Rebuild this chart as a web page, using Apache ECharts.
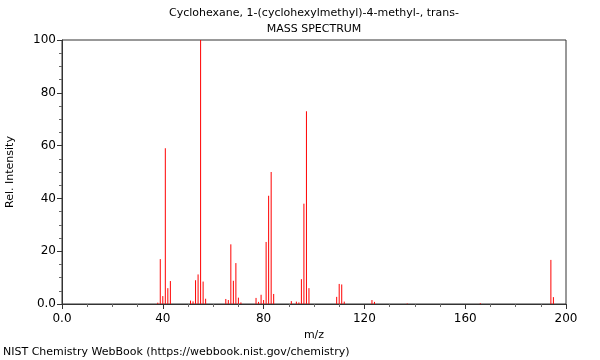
<!DOCTYPE html>
<html><head><meta charset="utf-8">
<script src="https://cdn.jsdelivr.net/npm/echarts@6/dist/echarts.min.js"></script>
<style>html,body{margin:0;padding:0;background:#fff}#c{width:600px;height:360px}</style>
</head><body><div id="c"></div>
<script>
const titleText = "Cyclohexane, 1-(cyclohexylmethyl)-4-methyl-, trans-";
const subtitleText = "MASS SPECTRUM";
const footerText = "NIST Chemistry WebBook (https://webbook.nist.gov/chemistry)";
const mz = [38,39,40,41,42,43,51,52,53,54,55,56,57,65,66,67,68,69,70,71,77,78,79,80,81,82,83,84,91,93,94,95,96,97,98,109,110,111,112,123,124,137,166,194,195];
const intensity = [0.5,17,3,59,6,8.7,1.3,1,9,11.2,100,8.5,2,1.9,1.5,22.6,8.8,15.5,2.4,0.6,2.3,0.8,3.5,1.5,23.5,41,50,3.8,1.1,0.9,0.6,9.4,38,73,6,2.7,7.6,7.4,0.9,1.5,0.8,0.2,0.3,16.7,2.6];

const chart = echarts.init(document.getElementById('c'), null, {renderer:'canvas'});
const font = 'DejaVu Sans';
chart.setOption({
  animation:false,
  textStyle:{fontFamily:font},
  title:[
    {text:titleText, left:314, top:8, padding:0, textAlign:'center', textStyle:{fontSize:11, fontWeight:'normal', color:'#000', fontFamily:font}},
    {text:subtitleText, left:314, top:24, padding:0, textAlign:'center', textStyle:{fontSize:11, fontWeight:'normal', color:'#000', fontFamily:font}},
    {text:footerText, left:3, top:347, padding:0, textStyle:{fontSize:11, fontWeight:'normal', color:'#000', fontFamily:font}}
  ],
  grid:{left:62, right:34, top:40, bottom:56, containLabel:false, outerBoundsMode:'none', show:true, borderColor:'#333', borderWidth:1, backgroundColor:'#fff'},
  xAxis:{type:'value', min:0, max:200, interval:40,
    name:'m/z', nameLocation:'middle', nameGap:24, nameTextStyle:{fontSize:11, color:'#000', fontFamily:font},
    axisLine:{show:true, lineStyle:{color:'#333'}},
    axisTick:{show:true, length:5, lineStyle:{color:'#333'}},
    minorTick:{show:true, splitNumber:4, length:3, lineStyle:{color:'#666'}},
    splitLine:{show:false},
    axisLabel:{fontSize:12, color:'#000', margin:9, formatter:v=> v===0?'0.0':String(v), fontFamily:font}
  },
  yAxis:{type:'value', min:0, max:100, interval:20,
    name:'Rel. Intensity', nameLocation:'middle', nameGap:46, nameTextStyle:{fontSize:11, color:'#000', fontFamily:font},
    axisLine:{show:true, lineStyle:{color:'#333'}},
    axisTick:{show:true, length:5, lineStyle:{color:'#333'}},
    minorTick:{show:true, splitNumber:4, length:3, lineStyle:{color:'#666'}},
    splitLine:{show:false},
    axisLabel:{fontSize:12, color:'#000', margin:6, formatter:v=> v===0?'0.0':String(v), fontFamily:font}
  },
  series:[{
    type:'custom',
    renderItem:function(params, api){
      const p0 = api.coord([api.value(0), 0]);
      const p1 = api.coord([api.value(0), api.value(1)]);
      return {type:'line', shape:{x1:p0[0], y1:p0[1], x2:p0[0], y2:p1[1]}, style:{stroke:'#ff0000', lineWidth:1}};
    },
    data: mz.map((m,i)=>[m,intensity[i]])
  }]
});
</script></body></html>
